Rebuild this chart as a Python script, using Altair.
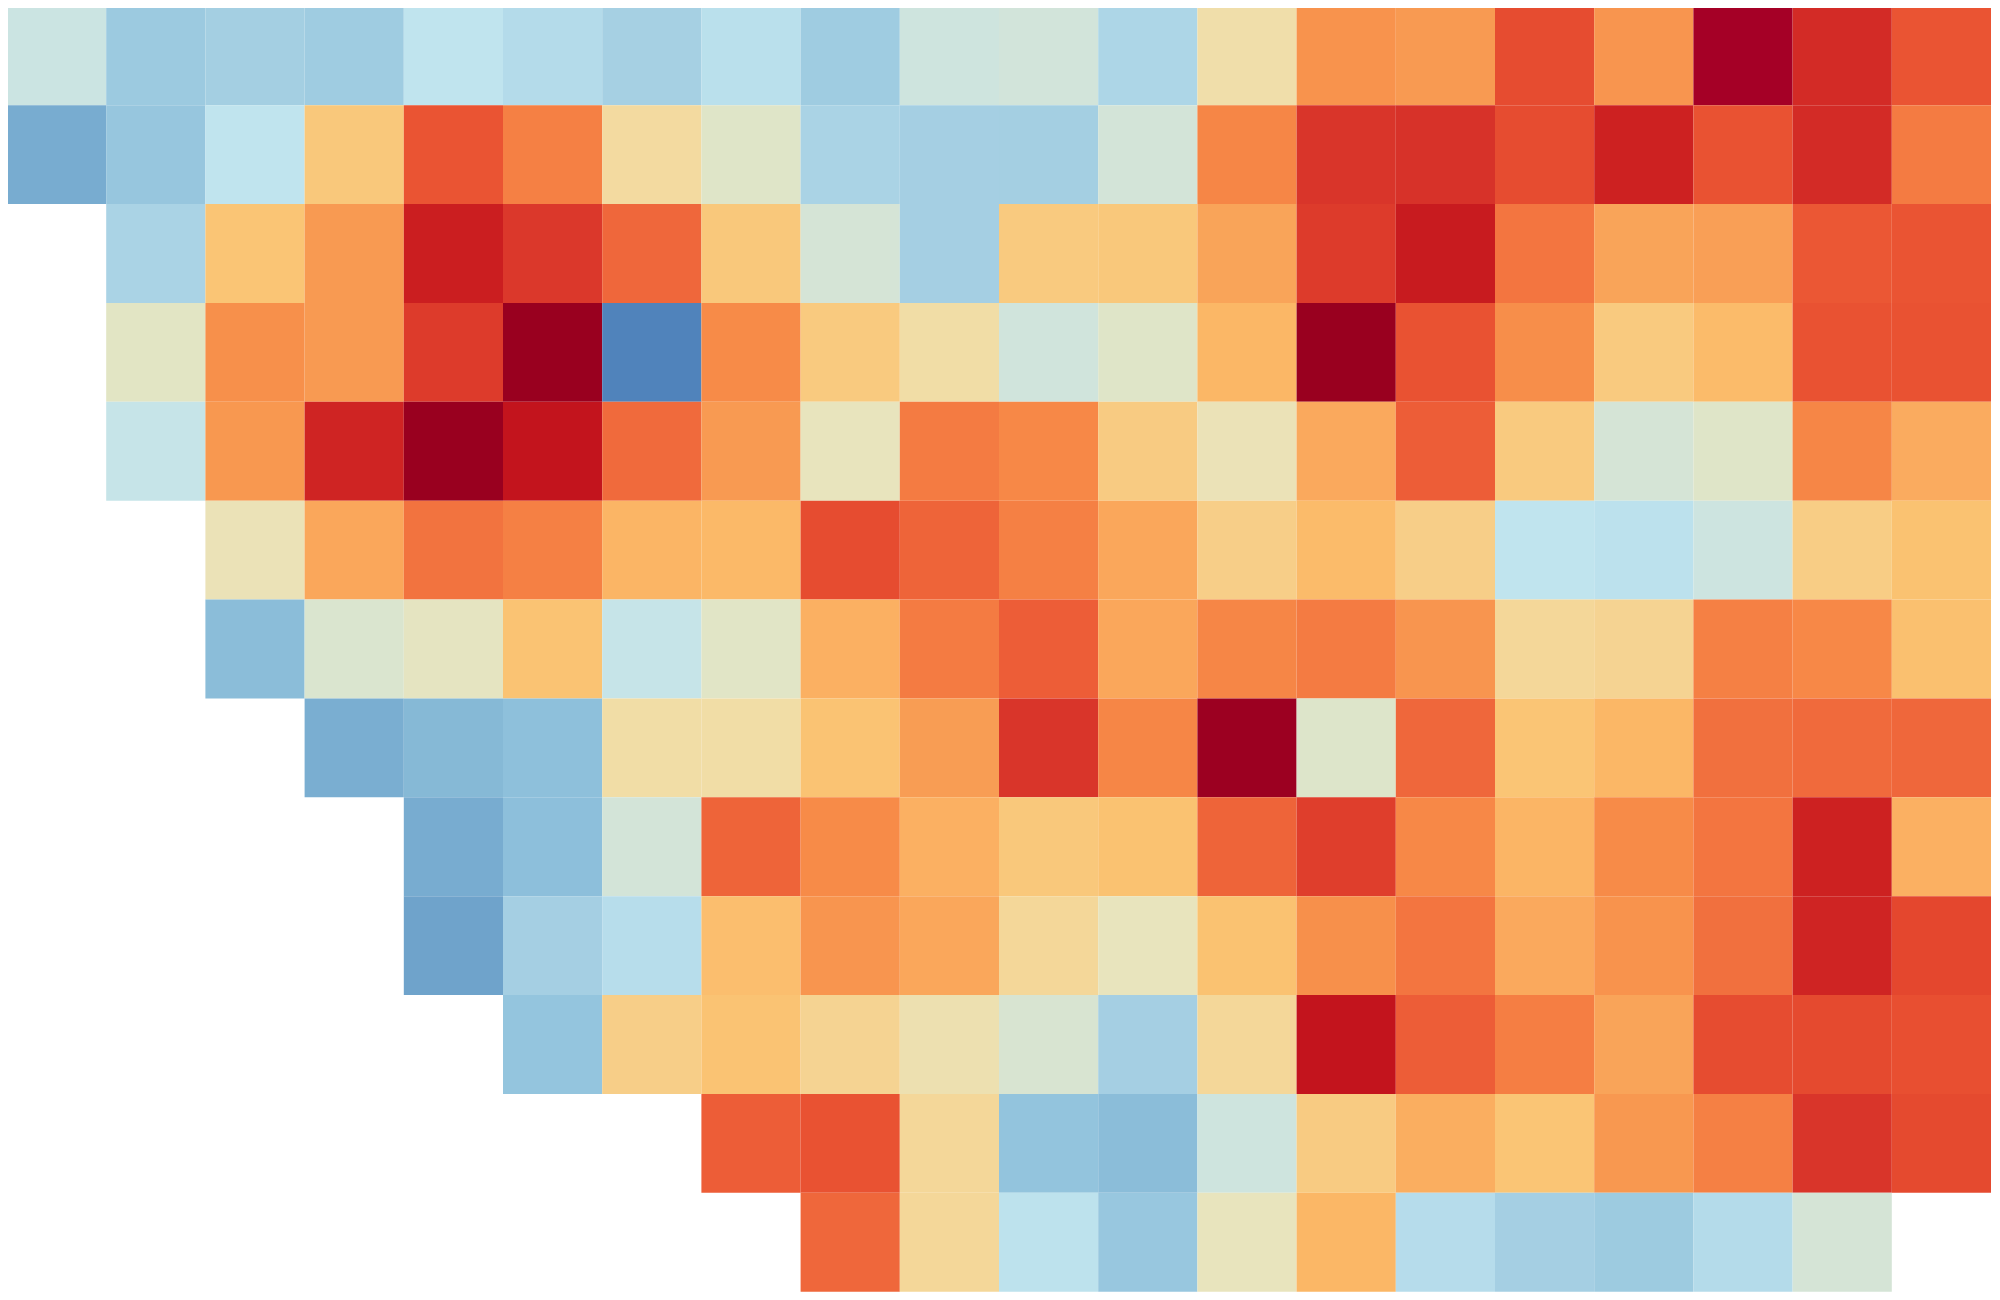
import altair as alt
import pandas as pd

# Cell values (0 = coolest blue, 100 = deepest red); None = empty cell
row_00 = [43, 27, 30, 28, 39, 35, 31, 37, 28, 44, 45, 33, 55, 74.5, 73, 87, 74, 98, 92.5, 85.5]
row_01 = [12, 25, 39, 62, 85.5, 78, 56.5, 49, 32, 30.5, 30, 45.5, 77, 91, 91.5, 87, 94, 86, 92.5, 79]
row_02 = [None, 32, 63, 73, 94.5, 90.5, 82.5, 62, 46, 30.5, 61.5, 62, 71, 90, 95, 80, 71, 72, 85, 85.5]
row_03 = [None, 50, 75, 73, 90, 100, 0, 76, 61.5, 55.5, 44.5, 49, 67, 100, 86, 75.5, 61.5, 66, 86, 86]
row_04 = [None, 41, 73.5, 93.5, 100, 96, 82, 73, 52, 79, 76.5, 61, 53, 70, 84, 61.5, 46, 49, 77, 69.5]
row_05 = [None, None, 53, 70.5, 80.5, 78, 67.5, 66.5, 87, 83, 78, 70.5, 60, 66, 60, 39, 37.5, 43.5, 60.5, 64]
row_06 = [None, None, 20, 47.5, 51, 63.5, 41, 49.5, 68.5, 79, 84, 70.5, 77, 79, 74, 57.5, 58.5, 78, 76.5, 64.5]
row_07 = [None, None, None, 13, 18, 21.5, 55.5, 55.5, 63.5, 72.5, 91, 77, 99.5, 48.5, 82.5, 63, 67, 81, 82, 82.5]
row_08 = [None, None, None, None, 12, 21, 45.5, 83, 76, 68.5, 62, 64, 83, 89.5, 76.5, 67.5, 76, 80, 94, 68.5]
row_09 = [None, None, None, None, 8, 30.5, 36, 65, 74, 70.5, 57.5, 52, 64, 75, 80, 70, 74.5, 81, 93.5, 88]
row_10 = [None, None, None, None, None, 24, 60, 63.5, 58.5, 54, 47, 30.5, 57.5, 96, 84, 78.5, 71, 87, 87.5, 86.5]
row_11 = [None, None, None, None, None, None, None, 84, 86, 57.5, 23.5, 20, 44, 61, 69, 63, 73.5, 78, 91, 87.5]
row_12 = [None, None, None, None, None, None, None, None, 82.5, 57.5, 38, 25.5, 52, 67, 35.5, 30.5, 27.5, 35, 46, None]

rows = [row_00, row_01, row_02, row_03, row_04, row_05, row_06,
        row_07, row_08, row_09, row_10, row_11, row_12]

records = []
for r, vals in enumerate(rows):
    for c, v in enumerate(vals):
        if v is not None:
            records.append({"row": r, "col": c, "value": v})
df = pd.DataFrame(records)

# colour ramp (blue -> pale -> red)
ramp_stops = [0, 8, 13, 18, 22, 27, 31, 35, 39, 43, 46, 49, 52, 56, 60, 63, 67,
              70, 73, 76, 79, 82, 85, 88, 91, 94, 96, 98, 100]
ramp_colors = ["#5083bb", "#6fa3cb", "#7aaed1", "#86b9d6", "#8fc1dc", "#9ccae0",
               "#a6d0e3", "#b4dbea", "#c0e4ee", "#cbe4e2", "#d5e4d6", "#dfe5c8",
               "#e8e4bd", "#f2dca3", "#f7ce88", "#fac575", "#fbb766", "#faa95d",
               "#f89a52", "#f78b48", "#f47b42", "#f06a3c", "#eb5734", "#e4472e",
               "#d9352a", "#cd2121", "#c3141d", "#a50026", "#99001f"]

chart = alt.Chart(df).mark_rect().encode(
    x=alt.X("col:O", axis=None, scale=alt.Scale(paddingInner=0, paddingOuter=0)),
    y=alt.Y("row:O", axis=None, scale=alt.Scale(paddingInner=0, paddingOuter=0)),
    color=alt.Color("value:Q", legend=None,
                    scale=alt.Scale(domain=ramp_stops, range=ramp_colors,
                                    interpolate="rgb")),
).properties(
    width=1988, height=1288,
    padding={"left": -1, "top": -3, "right": 0, "bottom": 0}
).configure_view(strokeWidth=0)

chart.save("out.html", embed_options={"renderer": "svg", "actions": False})
